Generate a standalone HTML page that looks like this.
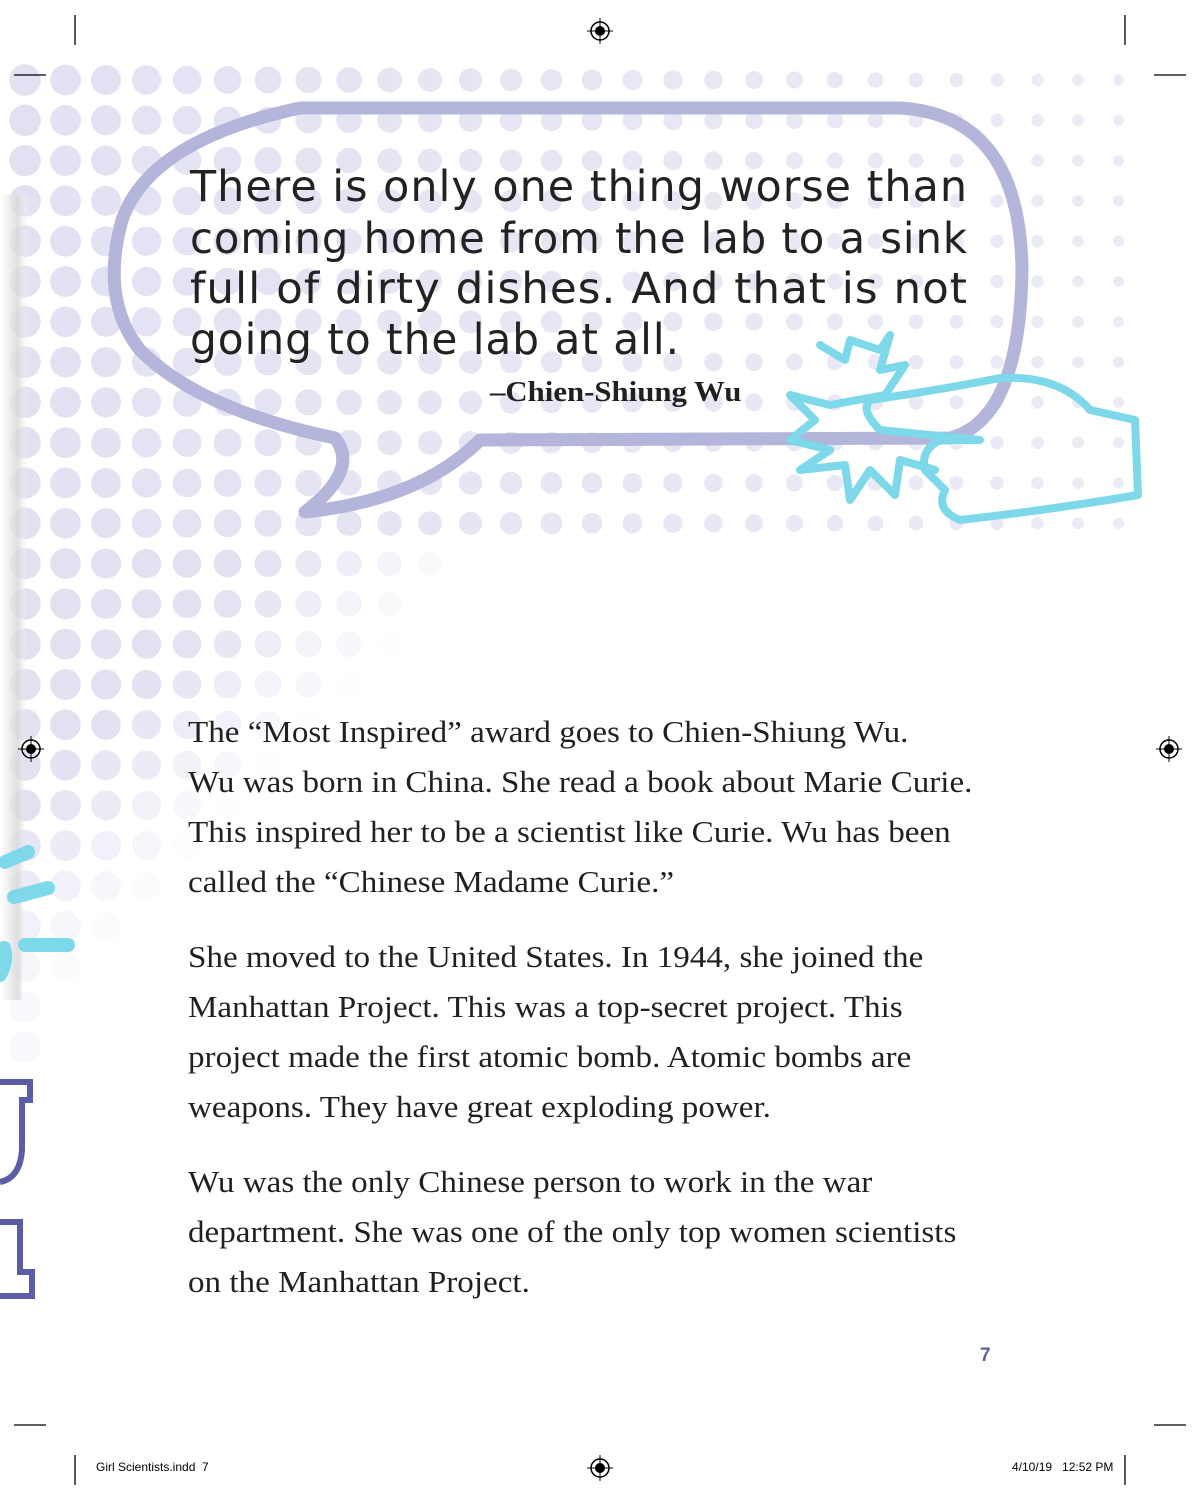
<!DOCTYPE html>
<html><head><meta charset="utf-8"><style>
body{margin:0;width:1200px;height:1500px;position:relative;background:#fff;overflow:hidden;font-family:"Liberation Serif",serif}
svg{position:absolute;left:0;top:0}
.q{position:absolute;left:190px;font-family:"DejaVu Sans","Liberation Sans",sans-serif;font-weight:normal;font-size:43px;color:#222;white-space:nowrap;letter-spacing:1px;transform-origin:left top}
.b{position:absolute;left:188px;font-size:30.5px;color:#231f20;white-space:nowrap;transform-origin:left top;transform:scaleX(1.085)}
</style></head><body>
<svg width="1200" height="1500">
<defs><linearGradient id="edge" x1="0" x2="1"><stop offset="0" stop-color="#fff"/><stop offset="0.6" stop-color="#d8d8d8"/><stop offset="1" stop-color="#fff" stop-opacity="0"/></linearGradient></defs>
<g id="dots"></g>
<path d="M0 195 L30 195 L22 1000 L0 1000 Z" fill="url(#edge)" opacity="0.8"/>
<path d="M300 108 L900 108 Q1020 115 1022 270 Q1020 420 950 438 L480 440 Q420 500 305 512 Q360 470 335 438 Q200 410 140 350 Q100 300 122 220 Q150 140 300 108 Z" fill="none" stroke="#b3b5da" stroke-width="13" stroke-linejoin="round"/>
<g fill="none" stroke="#7dd8ea" stroke-width="8" stroke-linejoin="round" stroke-linecap="round">
<path d="M820 345 L845 360 L850 340 L880 350 L890 335 L880 370 L905 365 L885 395 L830 405 L790 395 L815 420 L790 440 L830 450 L800 470 L845 465 L850 500 L870 470 L895 495 L900 460 L935 470"/>
<path d="M870 400 Q940 390 1000 378 Q1060 375 1090 410 L1135 420 L1138 495 Q1050 510 960 520 Q935 510 945 490 L925 470 Q920 450 940 440 L980 440 L880 430 Q860 410 870 400 Z"/>
</g>
<g stroke="#7dd8ea" stroke-width="14" stroke-linecap="round" fill="none">
<path d="M5 862 L28 852"/><path d="M14 897 L48 888"/><path d="M25 945 L68 945"/><path d="M0 975 Q8 960 4 948" />
</g>
<g stroke="#5b5ea6" stroke-width="6" fill="none">
<path d="M0 1082 L30 1082 L30 1100 L22 1100 L22 1150 Q20 1178 0 1182"/>
<path d="M0 1222 L20 1222 L20 1272 L32 1272 L32 1296 L0 1296"/>
</g>
<g stroke="#000" stroke-width="1.3">
<line x1="75" y1="15" x2="75" y2="45"/><line x1="1125" y1="15" x2="1125" y2="45"/>
<line x1="14" y1="75" x2="46" y2="75"/><line x1="1154" y1="75" x2="1186" y2="75"/>
<line x1="14" y1="1425" x2="46" y2="1425"/><line x1="1154" y1="1425" x2="1186" y2="1425"/>
<line x1="75" y1="1455" x2="75" y2="1485"/><line x1="1125" y1="1455" x2="1125" y2="1485"/>
</g>
<g id="regs"></g>
</svg>
<div class="q" style="top:162px">There is only one thing worse than</div>
<div class="q" style="top:214px">coming home from the lab to a sink</div>
<div class="q" style="top:264px">full of dirty dishes. And that is not</div>
<div class="q" style="top:315px">going to the lab at all.</div>
<div style="position:absolute;left:490px;top:377px;font-size:28px;font-weight:bold;color:#231f20;font-family:'Liberation Serif',serif;transform:scaleX(1.1);transform-origin:left top">–Chien-Shiung Wu</div>
<div class="b" style="top:715px">The “Most Inspired” award goes to Chien-Shiung Wu.</div>
<div class="b" style="top:765px">Wu was born in China. She read a book about Marie Curie.</div>
<div class="b" style="top:815px">This inspired her to be a scientist like Curie. Wu has been</div>
<div class="b" style="top:865px">called the “Chinese Madame Curie.”</div>
<div class="b" style="top:940px">She moved to the United States. In 1944, she joined the</div>
<div class="b" style="top:990px">Manhattan Project. This was a top-secret project. This</div>
<div class="b" style="top:1040px">project made the first atomic bomb. Atomic bombs are</div>
<div class="b" style="top:1090px">weapons. They have great exploding power.</div>
<div class="b" style="top:1165px">Wu was the only Chinese person to work in the war</div>
<div class="b" style="top:1215px">department. She was one of the only top women scientists</div>
<div class="b" style="top:1265px">on the Manhattan Project.</div>
<div style="position:absolute;left:980px;top:1345px;font-family:'Liberation Sans',sans-serif;font-weight:bold;font-size:19px;color:#5b5ea6">7</div>
<div style="position:absolute;left:96px;top:1460px;font-family:'Liberation Sans',sans-serif;font-size:12px">Girl Scientists.indd &nbsp;7</div>
<div style="position:absolute;left:1012px;top:1460px;font-family:'Liberation Sans',sans-serif;font-size:12px">4/10/19 &nbsp;&nbsp;12:52 PM</div>
<script>
const NS='http://www.w3.org/2000/svg';
const g=document.getElementById('dots');
for(let j=0;j<25;j++){const y=80+40.3*j;
 for(let i=0;i<28;i++){const x=25+40.5*i;
  let r=16-10.5*(x/1120);
  let a;
  if(y<=540){a=1-0.35*(x/1120);}
  else{const lim=Math.max(0,430-(y-540)*0.95);a=Math.max(0,Math.min(1,(lim-x)/220+0.3));if(x>lim+60)a=0;}
  if(a<=0.02)continue;
  const c=document.createElementNS(NS,'circle');
  
  
  c.setAttribute('cx',x);c.setAttribute('cy',y);c.setAttribute('r',r);
  c.setAttribute('fill','#e1e1f2');c.setAttribute('opacity',a.toFixed(2));
  g.appendChild(c);}}
const rg=document.getElementById('regs');
[[600,31],[31,749],[1169,749],[600,1468]].forEach(p=>{
 const e=document.createElementNS(NS,'g');
 
 
 e.innerHTML=`<circle cx="${p[0]}" cy="${p[1]}" r="9" fill="none" stroke="#000" stroke-width="1.5"/><circle cx="${p[0]}" cy="${p[1]}" r="5" fill="#000"/><line x1="${p[0]-13}" y1="${p[1]}" x2="${p[0]+13}" y2="${p[1]}" stroke="#000"/><line x1="${p[0]}" y1="${p[1]-13}" x2="${p[0]}" y2="${p[1]+13}" stroke="#000"/>`;
 rg.appendChild(e);});
document.querySelectorAll('.q').forEach(el=>{const w=el.getBoundingClientRect().width;const target=el.textContent.startsWith('going')?490:778;el.style.transform='scaleX('+(target/w)+')';});
</script>
</body></html>
